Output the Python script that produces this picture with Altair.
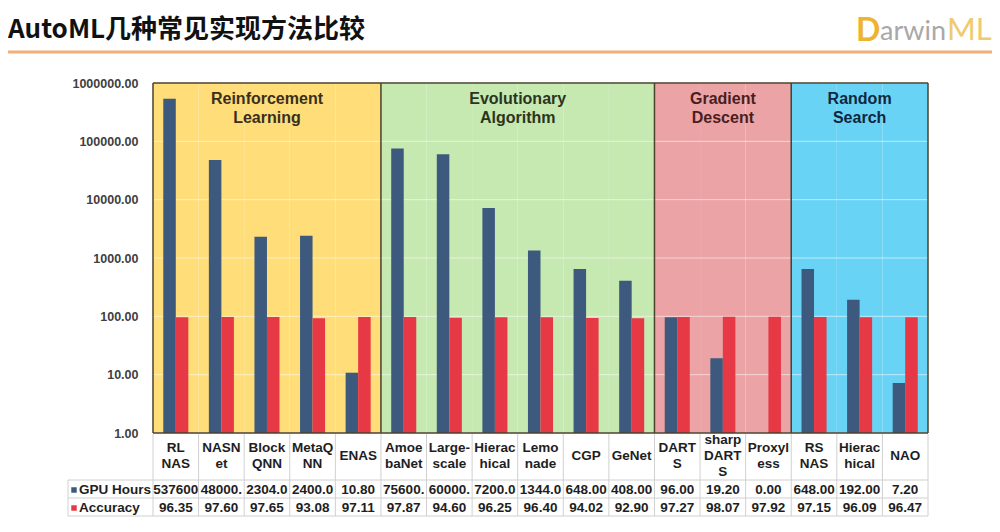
import altair as alt
import pandas as pd

# ---------------- data ----------------
categories = ["RL NAS", "NASNet", "BlockQNN", "MetaQNN", "ENAS",
              "AmoebaNet", "Large-scale", "Hierachical (EA)", "Lemonade", "CGP", "GeNet",
              "DARTS", "sharpDARTS", "Proxyless",
              "RS NAS", "Hierachical (RS)", "NAO"]
cat_labels = ["RL\nNAS", "NASN\net", "Block\nQNN", "MetaQ\nNN", "ENAS",
              "Amoe\nbaNet", "Large-\nscale", "Hierac\nhical", "Lemo\nnade", "CGP", "GeNet",
              "DART\nS", "sharp\nDART\nS", "Proxyl\ness",
              "RS\nNAS", "Hierac\nhical", "NAO"]
gpu_hours = [537600, 48000, 2304, 2400, 10.80,
             75600, 60000, 7200, 1344, 648, 408,
             96, 19.20, 0.00,
             648, 192, 7.20]
accuracy = [96.35, 97.60, 97.65, 93.08, 97.11,
            97.87, 94.60, 96.25, 96.40, 94.02, 92.90,
            97.27, 98.07, 97.92,
            97.15, 96.09, 96.47]
groups = ["Reinforcement\nLearning", "Evolutionary\nAlgorithm", "Gradient\nDescent", "Random\nSearch"]
group_sizes = [5, 6, 3, 3]
series = ["GPU Hours", "Accuracy"]
y_ticks = [1, 10, 100, 1000, 10000, 100000, 1000000]
title_text = "AutoML几种常见实现方法比较"

# ---------------- styles ----------------
W, H = 775, 350
group_colors = ["#FFDD78", "#C6E8B1", "#EBA3A5", "#69D3F5"]
group_text_colors = ["#3A2F1C", "#2A3520", "#4A1E1E", "#10283F"]
series_colors = ["#3D5A7E", "#E73846"]
border_color = "#4B412C"
table_line = "#D0D0D0"
FONT = "Liberation Sans"

# ---------------- tables ----------------
group_of = []
for g, n in zip(groups, group_sizes):
    group_of += [g] * n
cat_df = pd.DataFrame({"cat": categories, "label": cat_labels, "group": group_of,
                       "gpu": gpu_hours, "acc": accuracy})
cat_df["gpu_txt"] = [f"{v:.2f}"[:6] for v in gpu_hours]
cat_df["acc_txt"] = [f"{v:.2f}" for v in accuracy]
cat_df["nlines"] = [lab.count("\n") + 1 for lab in cat_labels]

long_df = pd.concat([
    pd.DataFrame({"cat": categories, "series": series[0], "value": gpu_hours}),
    pd.DataFrame({"cat": categories, "series": series[1], "value": accuracy}),
], ignore_index=True)

starts = []
s = 0
for n in group_sizes:
    starts.append(s)
    s += n
group_start_df = pd.DataFrame({"cat": [categories[i] for i in starts]})
last_df = pd.DataFrame({"cat": [categories[-1]]})
tick_df = pd.DataFrame({"t": y_ticks})

xscale = alt.Scale(domain=categories, paddingInner=0, paddingOuter=0)
yscale = alt.Scale(type="log", domain=[1, 1000000])
yaxis = alt.Axis(values=y_ticks, format=".2f", labelFont=FONT, labelFontSize=12.5,
                 labelFontWeight="bold", labelColor="#404040", domain=False, ticks=False,
                 grid=False, labelPadding=15, title=None)
series_color = alt.Color("series:N", scale=alt.Scale(domain=series, range=series_colors), legend=None)

# backgrounds
bg = alt.Chart(cat_df).mark_rect().encode(
    x=alt.X("cat:N", scale=xscale, axis=None),
    y=alt.value(0), y2=alt.value(H),
    fill=alt.Fill("group:N", scale=alt.Scale(domain=groups, range=group_colors), legend=None),
)

grid = alt.Chart(tick_df).mark_rule(color="white", opacity=0.55, strokeWidth=1).encode(
    y=alt.Y("t:Q", scale=yscale, axis=yaxis),
)

bars = alt.Chart(long_df).transform_filter("datum.value > 0").mark_bar().encode(
    x=alt.X("cat:N", scale=xscale, axis=None),
    xOffset=alt.XOffset("series:N", scale=alt.Scale(domain=series, paddingInner=0, paddingOuter=0.82)),
    y=alt.Y("value:Q", scale=yscale, axis=yaxis),
    y2=alt.datum(1),
    color=series_color,
)

# group borders
vrules = alt.Chart(group_start_df).mark_rule(color=border_color, strokeWidth=1.5).encode(
    x=alt.X("cat:N", scale=xscale, axis=None, bandPosition=0),
)
vrule_end = alt.Chart(last_df).mark_rule(color=border_color, strokeWidth=1.5).encode(
    x=alt.X("cat:N", scale=xscale, axis=None, bandPosition=1),
)
frame_top = alt.Chart(last_df).mark_rule(color=border_color, strokeWidth=1.5).encode(
    x=alt.value(0), x2=alt.value(W), y=alt.value(0))
frame_bot = alt.Chart(last_df).mark_rule(color=border_color, strokeWidth=1.5).encode(
    x=alt.value(0), x2=alt.value(W), y=alt.value(H))

# group labels
group_labels = []
for i, (g, n) in enumerate(zip(groups, group_sizes)):
    anchor = starts[i] + n // 2
    bp = 0.5 if n % 2 else 0
    group_labels.append(
        alt.Chart(pd.DataFrame({"cat": [categories[anchor]], "g": [g]})).mark_text(
            lineBreak="\n", font=FONT, fontSize=16, fontWeight="bold", baseline="top",
            lineHeight=19, color=group_text_colors[i]
        ).encode(
            x=alt.X("cat:N", scale=xscale, axis=None, bandPosition=bp),
            y=alt.value(8), text="g:N")
    )

# table
row_top, row1, row2, row3 = H, 397, 415, 433
tab_v = alt.Chart(cat_df).mark_rule(color=table_line, strokeWidth=1).encode(
    x=alt.X("cat:N", scale=xscale, axis=None, bandPosition=0),
    y=alt.value(row_top + 1), y2=alt.value(row3))
tab_v_end = alt.Chart(last_df).mark_rule(color=table_line, strokeWidth=1).encode(
    x=alt.X("cat:N", scale=xscale, axis=None, bandPosition=1),
    y=alt.value(row_top + 1), y2=alt.value(row3))
tab_h = [
    alt.Chart(last_df).mark_rule(color=table_line, strokeWidth=1).encode(
        x=alt.value(-85), x2=alt.value(W), y=alt.value(yy))
    for yy in (row1, row2, row3)
]
tab_left = alt.Chart(last_df).mark_rule(color=table_line, strokeWidth=1).encode(
    x=alt.value(-85), y=alt.value(row1), y2=alt.value(row3))

LH = 16
label_center = (row_top + row1) / 2 - 1
cat_text_layers = []
for nl in sorted(set(cat_df["nlines"])):
    cat_text_layers.append(
        alt.Chart(cat_df).transform_filter(f"datum.nlines == {nl}").mark_text(
            lineBreak="\n", font=FONT, fontSize=13.5, fontWeight="bold", baseline="middle",
            lineHeight=LH, color="#1E1E1E").encode(
            x=alt.X("cat:N", scale=xscale, axis=None),
            y=alt.value(label_center - (nl - 1) * LH / 2), text="label:N")
    )
gpu_text = alt.Chart(cat_df).mark_text(
    font=FONT, fontSize=13.5, fontWeight="bold", baseline="middle", color="#1E1E1E").encode(
    x=alt.X("cat:N", scale=xscale, axis=None), y=alt.value((row1 + row2) / 2 + 1), text="gpu_txt:N")
acc_text = alt.Chart(cat_df).mark_text(
    font=FONT, fontSize=13.5, fontWeight="bold", baseline="middle", color="#1E1E1E").encode(
    x=alt.X("cat:N", scale=xscale, axis=None), y=alt.value((row2 + row3) / 2 + 1), text="acc_txt:N")

legend_layers = []
for i, sname in enumerate(series):
    yy = (row1 + row2) / 2 + 1 if i == 0 else (row2 + row3) / 2 + 1
    sdf = pd.DataFrame({"series": [sname]})
    legend_layers.append(alt.Chart(sdf).mark_square(size=30, opacity=1).encode(
        x=alt.value(-79), y=alt.value(yy), color=series_color))
    legend_layers.append(alt.Chart(sdf).mark_text(
        font=FONT, fontSize=13.5, fontWeight="bold", align="left", baseline="middle",
        color="#1E1E1E").encode(x=alt.value(-74), y=alt.value(yy), text="series:N"))

# title and logo
title = alt.Chart(pd.DataFrame({"t": [title_text]})).mark_text(
    font="Noto Sans CJK SC", fontSize=26, fontWeight="bold", align="left",
    baseline="alphabetic", color="#111111").encode(
    x=alt.value(-145), y=alt.value(-45), text="t:N")
title_line = alt.Chart(last_df).mark_rule(color="#F2AE78", strokeWidth=3).encode(
    x=alt.value(-148), x2=alt.value(842), y=alt.value(-31))
logo_d = alt.Chart(pd.DataFrame({"t": ["D"]})).mark_text(
    font="Lato", fontSize=32, fontWeight="bold", align="left", baseline="alphabetic",
    color="#EDB431").encode(x=alt.value(703), y=alt.value(-42), text="t:N")
logo_a = alt.Chart(pd.DataFrame({"t": ["arwin"]})).mark_text(
    font="Lato", fontSize=27, align="left", baseline="alphabetic", color="#A8A8A8").encode(
    x=alt.value(727), y=alt.value(-43), text="t:N")
logo_ml = alt.Chart(pd.DataFrame({"t": ["ML"]})).mark_text(
    font="Lato", fontSize=31, align="left", baseline="alphabetic", color="#EDCB6E").encode(
    x=alt.value(794), y=alt.value(-43), text="t:N")

chart = alt.layer(
    bg, grid, bars, vrules, vrule_end, frame_top, frame_bot, *group_labels,
    tab_v, tab_v_end, *tab_h, tab_left, *cat_text_layers, gpu_text, acc_text, *legend_layers,
    title, title_line, logo_d, logo_a, logo_ml,
).properties(
    width=W, height=H,
    padding={"left": 145, "top": 75, "right": 64, "bottom": 91},
    autosize=alt.AutoSizeParams(type="none"),
    background="white",
).configure_view(stroke=None)

chart.save("out.html", embed_options={"renderer": "svg", "actions": False})
